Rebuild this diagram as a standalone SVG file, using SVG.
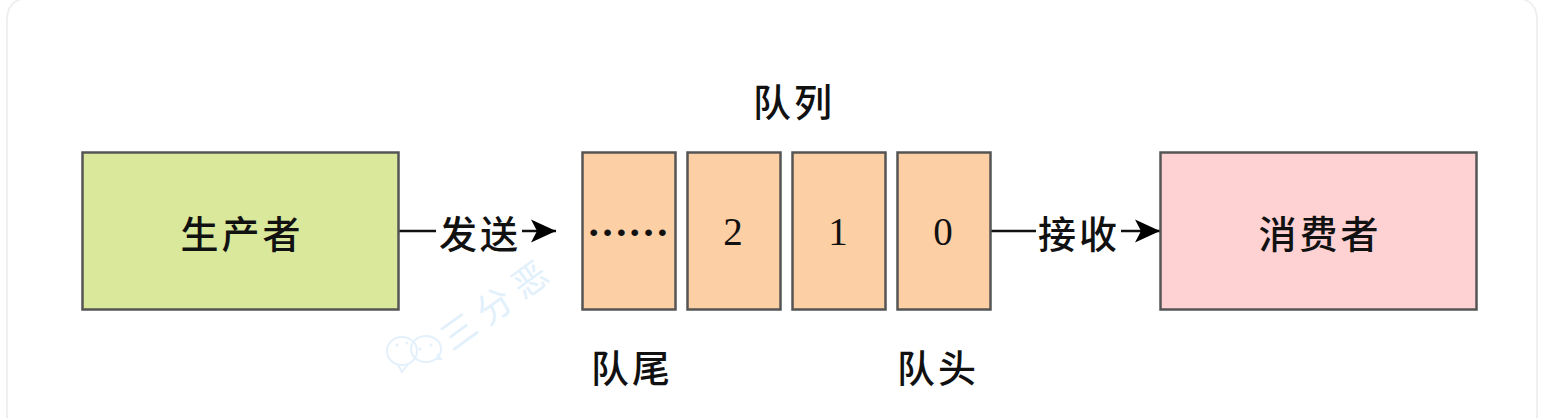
<svg xmlns="http://www.w3.org/2000/svg" width="1550" height="418" viewBox="0 0 1550 418">
<style>
.box{stroke:#555;stroke-width:2.5}
.t{font-family:"Noto Sans CJK SC","Liberation Serif",serif;fill:#111;text-anchor:middle;font-weight:500}
.n{font-family:"Liberation Serif",serif;fill:#111;text-anchor:middle;font-size:39px}
.big{font-size:38px;letter-spacing:3px}
.lab{font-size:38px;letter-spacing:3px}
.con{stroke:#111;stroke-width:2.5;fill:none}
.wm{fill:none;stroke:#e4f1fc;stroke-width:2}
.eye{fill:#e4f1fc}
</style>
<defs><marker id="arrow" markerUnits="userSpaceOnUse" markerWidth="28" markerHeight="26" refX="25" refY="13" orient="auto"><path d="M0 1.500L25 13L0 24.500L6 13Z" fill="#000"/></marker></defs>
<rect width="1550" height="418" fill="#fff"/>
<path d="M7 418V20Q7 0 27 -2H1517Q1537 0 1537 20V418" fill="none" stroke="#efefef" stroke-width="2"/>
<g id="watermark">
<g class="wm"><ellipse cx="402" cy="351" rx="15" ry="14"/><ellipse cx="426" cy="349" rx="15" ry="13"/><path d="M398 365L402 372L408 364M435 359L441 359L437 354"/></g>
<circle class="eye" cx="397" cy="345" r="1.500"/><circle class="eye" cx="407" cy="343" r="1.500"/><circle class="eye" cx="420" cy="349" r="1.500"/><circle class="eye" cx="431" cy="345" r="1.500"/>
<text transform="translate(452 352) rotate(-36)" font-family="Noto Sans CJK SC,sans-serif" font-size="35" letter-spacing="9" fill="#e2f0fc">三分恶</text>
</g>
<g id="connectors">
<path class="con" d="M399 231H436"/>
<path class="con" d="M522 231H556" marker-end="url(#arrow)"/>
<path class="con" d="M991 231H1036"/>
<path class="con" d="M1121 231H1160" marker-end="url(#arrow)"/>
</g>
<g id="producer"><rect class="box" x="82.500" y="152.500" width="316" height="157" fill="#d9e89b"/><text class="t big" x="242" y="248">生产者</text></g>
<g id="queue-tail"><rect class="box" x="582.500" y="152.500" width="93" height="157" fill="#fdcfa4"/><text x="628" y="236" text-anchor="middle" font-family="Liberation Serif,serif" font-size="41" font-weight="700" fill="#111">……</text></g>
<g id="queue-2"><rect class="box" x="687.500" y="152.500" width="93" height="157" fill="#fdcfa4"/><text class="n" x="733" y="245">2</text></g>
<g id="queue-1"><rect class="box" x="792.500" y="152.500" width="93" height="157" fill="#fdcfa4"/><text class="n" x="838" y="245">1</text></g>
<g id="queue-0"><rect class="box" x="897.500" y="152.500" width="93" height="157" fill="#fdcfa4"/><text class="n" x="943" y="245">0</text></g>
<g id="consumer"><rect class="box" x="1160.500" y="152.500" width="316" height="157" fill="#fed1d3"/><text class="t big" x="1320" y="248">消费者</text></g>
<g id="labels">
<text class="t lab" x="480" y="248">发送</text>
<text class="t lab" x="1079" y="248">接收</text>
<text class="t lab" x="794" y="116">队列</text>
<text class="t lab" x="632" y="382">队尾</text>
<text class="t lab" x="938" y="382">队头</text>
</g>
</svg>
